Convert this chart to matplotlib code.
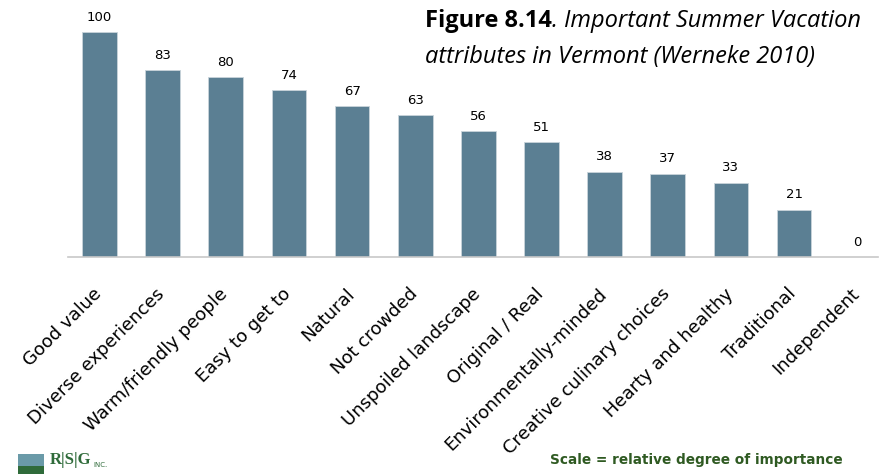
import matplotlib.pyplot as plt
from matplotlib.patches import Rectangle
from matplotlib.transforms import ScaledTranslation

categories = ['Good value', 'Diverse experiences', 'Warm/friendly people', 'Easy to get to',
              'Natural', 'Not crowded', 'Unspoiled landscape', 'Original / Real',
              'Environmentally-minded', 'Creative culinary choices', 'Hearty and healthy',
              'Traditional', 'Independent']
values = [100, 83, 80, 74, 67, 63, 56, 51, 38, 37, 33, 21, 0]

bar_color = '#5b7f93'

fig = plt.figure(figsize=(8.81, 4.76), dpi=100)
# axes placed in pixel terms: left 68px, right 878px, baseline 257px, top ~10px
ax = fig.add_axes([68 / 881, (476 - 257) / 476, (878 - 68) / 881, 247.5 / 476])

x = list(range(len(categories)))
ax.bar(x, values, width=0.55, color=bar_color, edgecolor='#c9d4db', linewidth=0.6, zorder=2)
for xi, v in zip(x, values):
    ax.annotate(str(v), (xi, v), xytext=(0, 6), textcoords='offset points',
                ha='center', va='bottom', fontsize=9.5, color='black')

ax.set_xlim(-0.5, 12.33)
ax.set_ylim(0, 110)
for s in ['top', 'right', 'left']:
    ax.spines[s].set_visible(False)
ax.spines['bottom'].set_color('#c8c8c8')
ax.spines['bottom'].set_linewidth(1.2)
ax.set_yticks([])
ax.set_xticks(x)
ax.set_xticklabels(categories, rotation=45, ha='right', rotation_mode='anchor',
                   fontsize=13, color='black')
ax.tick_params(axis='x', length=0, pad=20)
shift = ScaledTranslation(-7 / 100, 0, fig.dpi_scale_trans)
for lab in ax.get_xticklabels():
    lab.set_transform(lab.get_transform() + shift)

# title block
t1 = fig.text(0.482, 0.943, 'Figure 8.14', fontsize=17, fontweight='bold', family='Open Sans',
              ha='left', va='baseline')
ax.annotate('. Important Summer Vacation', xy=(1, 0), xycoords=t1, fontsize=17,
            style='italic', family='Open Sans', ha='left', va='bottom')
fig.text(0.482, 0.868, 'attributes in Vermont (Werneke 2010)', fontsize=17, style='italic',
         family='Open Sans', ha='left', va='baseline')

# footer
fig.text(0.957, 0.018, 'Scale = relative degree of importance', fontsize=9.8,
         fontweight='bold', color='#2f5a22', ha='right', va='bottom')

# logo
fig.patches.append(Rectangle((18 / 881, 2 / 476), 26 / 881, 20 / 476, transform=fig.transFigure,
                             facecolor='#6a9aa8', edgecolor='none'))
fig.patches.append(Rectangle((18 / 881, 2 / 476), 26 / 881, 8 / 476, transform=fig.transFigure,
                             facecolor='#2f6b3a', edgecolor='none'))
fig.text(50 / 881, 8 / 476, 'R|S|G', fontsize=12, family='Liberation Serif', fontweight='bold',
         color='#2f6b3a', ha='left', va='bottom')
fig.text(93 / 881, 8 / 476, 'INC.', fontsize=5, color='#2f6b3a', ha='left', va='bottom')

fig.savefig('out.png', dpi=100)
